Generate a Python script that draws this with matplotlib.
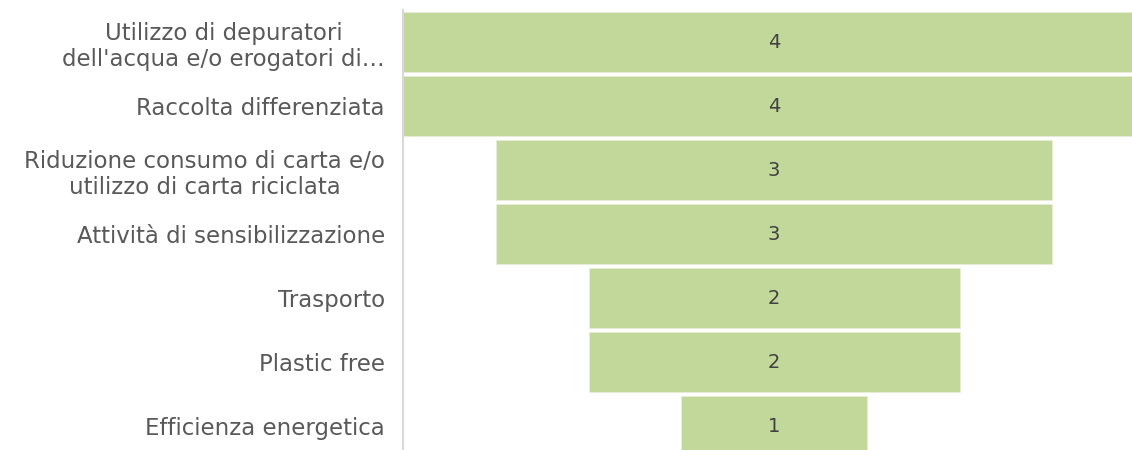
import matplotlib
matplotlib.use("Agg")
import matplotlib.pyplot as plt

categories = [
    "Utilizzo di depuratori\ndell'acqua e/o erogatori di…",
    "Raccolta differenziata",
    "Riduzione consumo di carta e/o\nutilizzo di carta riciclata",
    "Attività di sensibilizzazione",
    "Trasporto",
    "Plastic free",
    "Efficienza energetica",
]
values = [4, 4, 3, 3, 2, 2, 1]

W, H = 1132, 450
fig = plt.figure(figsize=(W / 100, H / 100), dpi=100)
ax_left, ax_right = 403, 1145
ax_top, ax_bottom = 10, 458
ax = fig.add_axes([ax_left / W, (H - ax_bottom) / H,
                   (ax_right - ax_left) / W, (ax_bottom - ax_top) / H])

ypos = list(range(len(categories)))
lefts = [-v / 2 for v in values]
bars = ax.barh(ypos, values, left=lefts, height=60 / 64, color="#C2D79A",
               edgecolor="#E6EFD6", linewidth=0.6)
for y, v in zip(ypos, values):
    ax.text(0, y, str(v), ha="center", va="center", fontsize=14,
            color="#404040", family="DejaVu Sans")

ax.set_xlim(-2, 2)
ax.set_ylim(len(categories) - 0.5, -0.5)
ax.set_yticks(ypos)
ax.set_yticklabels(categories, family="DejaVu Sans", fontsize=16.5, color="#595959",
                   multialignment="center", linespacing=1.22)
ax.tick_params(axis="y", length=0, pad=13)
ax.set_xticks([])
for s in ["top", "right", "bottom"]:
    ax.spines[s].set_visible(False)
ax.spines["left"].set_color("#D9D9D9")
ax.spines["left"].set_linewidth(1.5)

fig.savefig("out.png", dpi=100)
